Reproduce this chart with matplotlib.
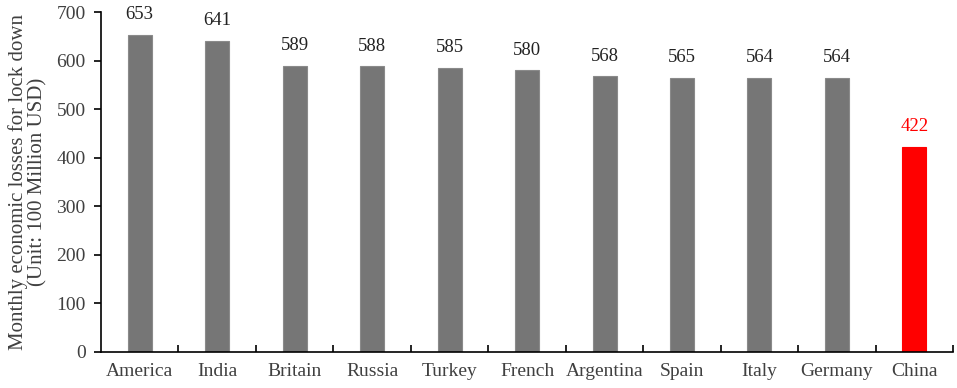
import matplotlib
matplotlib.use("Agg")
import matplotlib.pyplot as plt

countries = ["America", "India", "Britain", "Russia", "Turkey", "French",
             "Argentina", "Spain", "Italy", "Germany", "China"]
losses = [653, 641, 589, 588, 585, 580, 568, 565, 564, 564, 422]

plt.rcParams["font.family"] = ["Liberation Serif", "DejaVu Serif"]

fig = plt.figure(figsize=(9.57, 3.88), dpi=100)
ax = fig.add_axes([0.1055, 0.0928, 0.8905, 0.876])

colors = ["#767676"] * (len(countries) - 1) + ["#ff0000"]
edges = ["#8a8a8a"] * (len(countries) - 1) + ["#ff0000"]
x = range(len(countries))
ax.bar(x, losses, width=0.31, color=colors, edgecolor=edges, linewidth=0.8)

for i, v in enumerate(losses):
    ax.text(i, v + 24, str(v), ha="center", va="bottom", fontsize=13.5,
            color="red" if countries[i] == "China" else "#222222")

ax.set_xlim(-0.5, len(countries) - 0.5)
ax.set_ylim(0, 700)
ax.set_yticks(range(0, 701, 100))
ax.set_xticks(x)
ax.set_xticklabels(countries)
ax.set_xticks([i + 0.5 for i in range(len(countries))], minor=True)
ax.tick_params(axis="x", which="major", length=0, pad=8, labelsize=14, labelcolor="#404040")
ax.tick_params(axis="x", which="minor", direction="in", length=5, width=1.2)
ax.tick_params(axis="y", direction="out", length=5, width=1.2, pad=6,
               labelsize=14, labelcolor="#404040")

for s in ["top", "right"]:
    ax.spines[s].set_visible(False)
for s in ["left", "bottom"]:
    ax.spines[s].set_linewidth(1.2)

ax.set_ylabel("Monthly economic losses for lock down\n(Unit: 100 Million USD)",
              fontsize=15, color="#404040", labelpad=6, linespacing=1.05)

fig.savefig("out.png", dpi=100)
